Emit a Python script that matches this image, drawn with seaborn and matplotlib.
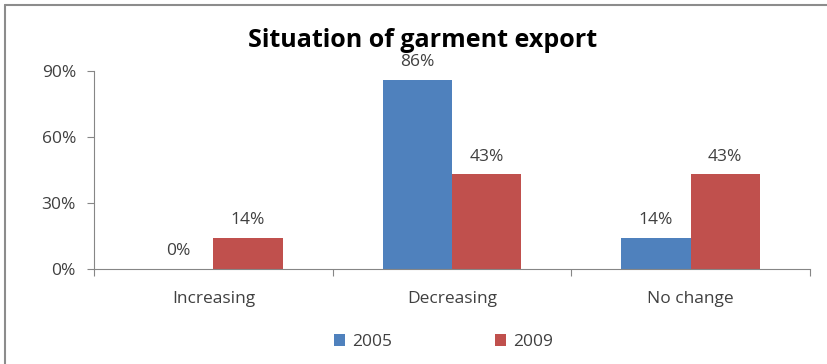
import matplotlib
matplotlib.use("Agg")
import matplotlib.pyplot as plt
from matplotlib.lines import Line2D
from matplotlib.ticker import FixedLocator, PercentFormatter
import seaborn as sns
import pandas as pd

categories = ["Increasing", "Decreasing", "No change"]
years = ["2005", "2009"]
share_2005 = [0, 86, 14]
share_2009 = [14, 43, 43]
palette = {"2005": "#4F81BD", "2009": "#C0504D"}

df = pd.DataFrame({
    "Situation": categories * 2,
    "Year": [years[0]] * 3 + [years[1]] * 3,
    "Share": share_2005 + share_2009,
})

sns.set_theme(style="white")
plt.rcParams["font.family"] = ["Open Sans", "DejaVu Sans"]
text_color = "#404040"
axis_color = "#868686"

fig = plt.figure(figsize=(8.27, 3.64), dpi=100)
ax = fig.add_axes([0.1137, 0.261, 0.8657, 0.544])

sns.barplot(data=df, x="Situation", y="Share", hue="Year", palette=palette,
            order=categories, hue_order=years, width=0.58, saturation=1,
            linewidth=0, ax=ax, legend=True)

ax.set_ylim(0, 90)
ax.set_xlim(-0.5, 2.5)
ax.set_yticks([0, 30, 60, 90])
ax.yaxis.set_major_formatter(PercentFormatter(decimals=0))
ax.tick_params(axis="y", which="major", direction="out", length=5, width=0.8,
               color=axis_color, labelsize=12.5, labelcolor=text_color, pad=8, left=True)
ax.tick_params(axis="x", which="major", length=0, labelsize=12.5,
               labelcolor=text_color, pad=16)
ax.xaxis.set_minor_locator(FixedLocator([-0.5, 0.5, 1.5, 2.5]))
ax.tick_params(axis="x", which="minor", direction="out", length=5, width=0.8,
               color=axis_color, bottom=True)
ax.set_xlabel("")
ax.set_ylabel("")

for side in ("top", "right"):
    ax.spines[side].set_visible(False)
for side in ("left", "bottom"):
    ax.spines[side].set_color(axis_color)
    ax.spines[side].set_linewidth(0.8)

for container in ax.containers:
    ax.bar_label(container, labels=[f"{v:.0f}%" for v in container.datavalues],
                 padding=7, fontsize=12.5, color=text_color)

fig.text(0.511, 0.89, "Situation of garment export", fontsize=18, fontweight="bold",
         color="black", ha="center", va="center")

leg = ax.legend(loc="upper center", bbox_to_anchor=(0.488, -0.25), ncol=2,
                frameon=False, fontsize=12.5, handlelength=0.65, handleheight=0.65,
                columnspacing=5.9, handletextpad=0.4)
for t in leg.get_texts():
    t.set_color(text_color)

# chart-area border (top and left edges)
fig.add_artist(Line2D([0.0066, 1.0], [0.987, 0.987], transform=fig.transFigure,
                      color="#8c8c8c", linewidth=1.5))
fig.add_artist(Line2D([0.0066, 0.0066], [0.0, 0.987], transform=fig.transFigure,
                      color="#8c8c8c", linewidth=1.5))

fig.savefig("out.png", dpi=100)
